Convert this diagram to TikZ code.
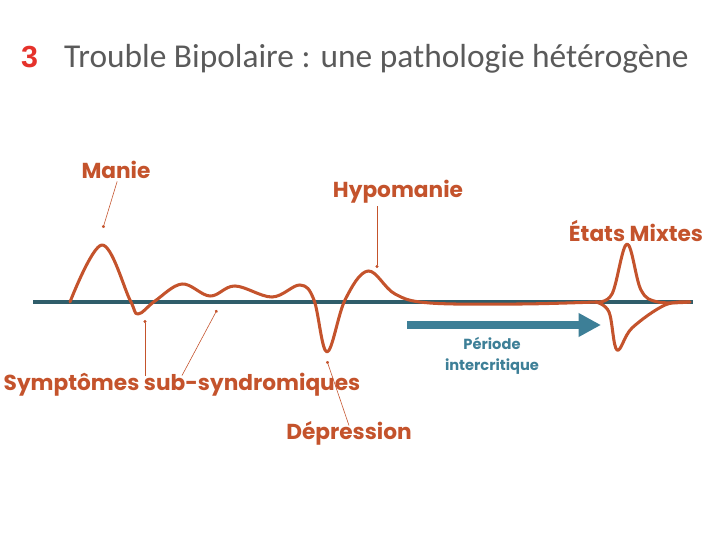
\documentclass[tikz,border=0pt]{standalone}
\usepackage{fontspec}
\setmainfont{Carlito}
\newfontfamily\lblfont{Poppins}
\newfontfamily\numfont{Liberation Sans}
\usetikzlibrary{arrows.meta, positioning, calc}

\definecolor{rust}{HTML}{C4532C}
\definecolor{deepteal}{HTML}{2F5D6A}
\definecolor{steel}{HTML}{3D7F97}
\definecolor{slate}{HTML}{5A5A5A}
\definecolor{alarm}{HTML}{E5322B}

\begin{document}
\begin{tikzpicture}[x=0.03cm, y=-0.03cm,
    lbl/.style={font=\lblfont\bfseries\fontsize{18.5}{21}\selectfont, text=rust, inner sep=2pt},
    curve/.style={draw=rust, line width=2.6pt, line join=round, line cap=round},
    ptr/.style={draw=rust, line width=0.5pt, -{Circle[length=2.6pt]}},
    baseline/.style={draw=deepteal, line width=2.6pt},
    flow/.style={draw=steel, line width=7pt, -{Triangle[length=19pt, width=19pt]}},
]
\useasboundingbox (0,0) rectangle (720,540);

% ---- Title ----
\node[anchor=base west, inner sep=0, text=alarm,
    font=\numfont\bfseries\fontsize{26}{30}\selectfont] (num) at (21,68) {3};
\node[anchor=base west, inner sep=0, text=slate,
    font=\fontsize{28.5}{32}\selectfont] (title) at (64,68)
    {Trouble Bipolaire : une pathologie hétérogène};

% ---- Time axis ----
\coordinate (t0) at (33,302);
\coordinate (t1) at (693,302);
\draw[baseline] (t0) -- (t1);

% ---- Mood curve ----
\draw[curve] plot[smooth, tension=0.6] coordinates {
    (70,302) (102,245) (130,300) (138,314) (155,301) (182,284) (210,296)
    (235,286) (272,297) (300,285) (314,300) (327,352) (345,300) (368,271)
    (395,294) (430,303) (520,304) (596,302)};
% mixed states: up and down at once
\draw[curve] plot[smooth, tension=0.6] coordinates {
    (596,302) (612,294) (627,244) (641,290) (658,302) (690,302)};
\draw[curve] plot[smooth, tension=0.6] coordinates {
    (596,302) (609,312) (617,350) (632,328) (665,305) (690,302)};

% ---- Labels ----
\node[lbl] (manie) at (116,170) {Manie};
\node[lbl] (hypo) at (398,192) {Hypomanie};
\node[lbl] (mixtes) at (636,231) {États Mixtes};
\node[lbl] (sympt) at (182,385) {Symptômes sub-syndromiques};
\node[lbl] (depr) at (349,433) {Dépression};

% pointer ends
\coordinate (pmanie) at (103,228);
\coordinate (phypo) at (377,268);
\coordinate (psym1) at (145,320);
\coordinate (psym2) at (217,310);
\coordinate (pdepr) at (327,361);

\draw[ptr] ([xshift=1pt]manie.south) -- (pmanie);
\draw[ptr] (hypo.south -| phypo) -- (phypo);
\draw[ptr] ([yshift=-4pt]sympt.north -| psym1) -- (psym1);
\draw[ptr] ([yshift=-4pt]sympt.north) -- (psym2);
\draw[ptr] ([yshift=-6pt]depr.north) -- (pdepr);

% ---- Intercritical period ----
\coordinate (ilo) at (407,325);
\coordinate (ihi) at (601,325);
\draw[flow] (ilo) -- (ihi);
\node[align=center, text=steel,
    font=\lblfont\bfseries\fontsize{12.5}{18}\selectfont] (periode) at (492,356)
    {Période\\intercritique};

\end{tikzpicture}
\end{document}
